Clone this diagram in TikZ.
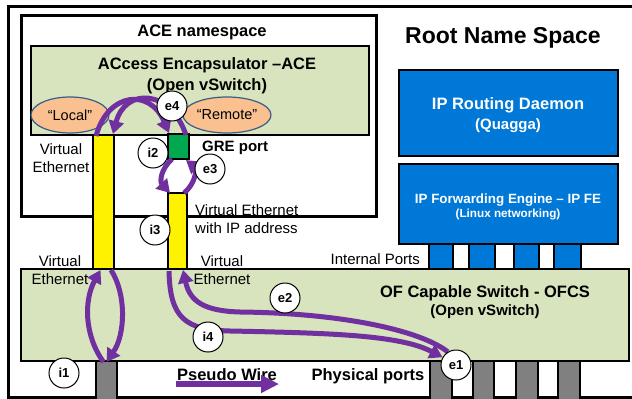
\documentclass[tikz,border=0pt]{standalone}
\usepackage{fontspec}
\setmainfont{Liberation Sans}
\usetikzlibrary{arrows.meta,calc,shapes.geometric}
\definecolor{ofgreen}{RGB}{215,228,189}
\definecolor{ipblue}{RGB}{0,120,215}
\definecolor{purp}{RGB}{112,48,160}
\definecolor{gregreen}{RGB}{0,168,80}
\definecolor{peach}{RGB}{250,192,144}
\definecolor{ellborder}{RGB}{56,93,138}
\definecolor{portgray}{RGB}{128,128,128}
\pgfdeclarelayer{front}
\pgfsetlayers{main,front}
\begin{document}
\begin{tikzpicture}[x=1pt,y=-1pt,
  box/.style={draw, line width=2.5pt, anchor=north west, inner sep=0pt, outer sep=0pt},
  bl/.style={font=\bfseries\fontsize{16.5}{18}\selectfont, anchor=base, inner sep=0pt},
  rl/.style={font=\fontsize{15}{18}\selectfont, anchor=base, inner sep=0pt},
  ell/.style={ellipse, draw=ellborder, line width=1.2pt, fill=peach, inner sep=0pt, font=\fontsize{14.5}{16}\selectfont},
  lbl/.style={circle, draw, line width=1pt, fill=white, minimum size=30pt, inner sep=0pt, font=\bfseries\fontsize{13}{14}\selectfont},
  parrow/.style={draw=purp, line width=5pt, -{Triangle[length=13pt,width=15pt]}}
]
\useasboundingbox (0,0) rectangle (632,399);
\fill[white] (0,0) rectangle (632,399);
\clip (0,0) rectangle (632,399);

% outer frame
\draw[line width=3pt] (645,6) -- (8,6) -- (8,397) -- (645,397);

% ACE namespace
\node[box, line width=3pt, minimum width=355pt, minimum height=201pt] (acens) at (21,15) {};
\node[box, fill=ofgreen, minimum width=338pt, minimum height=89pt] (ace) at (31,46) {};
\node[bl] (tacens) at (202,36) {ACE namespace};
\node[bl] (tace1) at (207,69) {ACcess Encapsulator –ACE};
\node[bl] (tace2) at (207,90) {(Open vSwitch)};
\node[ell, minimum width=78pt, minimum height=36pt] (local) at (70,115) {“Local”};
\node[ell, minimum width=88pt, minimum height=36pt] (remote) at (227,115) {“Remote”};

% internal ports and physical ports
\node[box, fill=ipblue, minimum width=24pt, minimum height=26pt] (ip1) at (429,244) {};
\node[box, fill=ipblue, minimum width=26pt, minimum height=26pt] (ip2) at (469,244) {};
\node[box, fill=ipblue, minimum width=25pt, minimum height=26pt] (ip3) at (514,244) {};
\node[box, fill=ipblue, minimum width=27pt, minimum height=26pt] (ip4) at (554,244) {};
\node[box, fill=portgray, minimum width=21pt, minimum height=44pt] (phy0) at (96,361) {};
\node[box, fill=portgray, minimum width=22pt, minimum height=44pt] (phy1) at (430,361) {};
\node[box, fill=portgray, minimum width=21pt, minimum height=44pt] (phy2) at (473,361) {};
\node[box, fill=portgray, minimum width=22pt, minimum height=44pt] (phy3) at (516,361) {};
\node[box, fill=portgray, minimum width=22pt, minimum height=44pt] (phy4) at (558,361) {};

% bars
\node[box, fill=yellow, minimum width=21pt, minimum height=134pt] (vethL) at (93,135) {};
\node[box, fill=gregreen, minimum width=21pt, minimum height=25pt] (gre) at (168,134) {};
\node[box, fill=yellow, minimum width=19pt, minimum height=76pt] (veth2) at (168,193) {};

% OFCS
\node[box, fill=ofgreen, minimum width=608pt, minimum height=92pt] (ofcs) at (21,269) {};
\node[bl] (tof1) at (485,297) {OF Capable Switch - OFCS};
\node[bl, font=\bfseries\fontsize{15}{18}\selectfont] (tof2) at (485,315) {(Open vSwitch)};

% blue boxes
\node[box, fill=ipblue, minimum width=219pt, minimum height=86pt] (quagga) at (399,70) {};
\node[box, fill=ipblue, minimum width=219pt, minimum height=80pt] (ipfe) at (399,164) {};
\node[bl, text=white] (tq1) at (508,109) {IP Routing Daemon};
\node[bl, text=white, font=\bfseries\fontsize{15}{18}\selectfont] (tq2) at (508,129) {(Quagga)};
\node[bl, text=white, font=\bfseries\fontsize{13.4}{16}\selectfont] (tf1) at (508,203) {IP Forwarding Engine – IP FE};
\node[bl, text=white, font=\bfseries\fontsize{11.7}{14}\selectfont] (tf2) at (508,217) {(Linux networking)};
\node[bl, font=\bfseries\fontsize{23}{26}\selectfont] (troot) at (503,43) {Root Name Space};

% labels
\node[rl] (tv1a) at (61,154) {Virtual};
\node[rl] (tv1b) at (61,172) {Ethernet};
\node[bl, anchor=base west, font=\bfseries\fontsize{15}{18}\selectfont] (tgre) at (202,151) {GRE port};
\node[rl, anchor=base west] (tv2a) at (195,215) {Virtual Ethernet};
\node[rl, anchor=base west] (tv2b) at (195,233) {with IP address};
\node[rl] (tv3a) at (60,266) {Virtual};
\node[rl] (tv3b) at (60,284) {Ethernet};
\node[rl] (tv4a) at (222,266) {Virtual};
\node[rl] (tv4b) at (222,284) {Ethernet};
\node[rl, anchor=base east] (tint) at (420,264) {Internal Ports};
\node[bl] (tpw) at (227,380) {Pseudo Wire};
\node[bl] (tphy) at (368,380) {Physical ports};

% circles
\begin{pgfonlayer}{front}
\node[lbl] (e4) at (172,106) {e4};
\node[lbl] (i2) at (153,153) {i2};
\node[lbl] (e3) at (210,169) {e3};
\node[lbl] (i3) at (155,230) {i3};
\node[lbl] (e2) at (285,298) {e2};
\node[lbl] (i4) at (208,337) {i4};
\node[lbl] (i1) at (64,373) {i1};
\node[lbl] (e1) at (456,365) {e1};
\end{pgfonlayer}

% arrows
\draw[parrow] ($(vethL.north west)+(3,1)$) .. controls (108,92) and (150,88) .. ($(gre.north west)+(1,-1)$);
\draw[parrow] ($(gre.north east)+(-3,1)$) .. controls (170,88) and (125,88) .. ($(vethL.north east)+(-1,-1)$);
\draw[parrow] ($(gre.south west)+(4,0)$) .. controls (160,170) and (160,182) .. ($(veth2.north west)+(2,0)$);
\draw[parrow] ($(veth2.north east)+(-3,0)$) .. controls (197,182) and (196,168) .. ($(gre.south east)+(-3,1)$);
\draw[parrow] ($(vethL.south east)+(-3,1)$) .. controls (127,295) and (125,335) .. ($(phy0.north)+(0,1)$);
\draw[parrow] ($(phy0.north)+(-3,1)$) .. controls (84,335) and (84,300) .. ($(vethL.south)+(-3,1)$);
\draw[parrow] ($(veth2.south west)+(1,2)$) .. controls (170,318) and (185,330) .. (230,331) .. controls (330,333) and (400,335) .. (e1.150);
\draw[parrow] (e1.122) .. controls (420,330) and (340,313) .. (240,312) .. controls (205,311) and (190,302) .. ($(veth2.south east)+(-4,1)$);

% legend
\coordinate (pwA) at (176,384);
\coordinate (pwB) at (279,384);
\draw[draw=purp, line width=6pt, -{Triangle[length=18pt,width=17pt]}] (pwA) -- (pwB);
\end{tikzpicture}
\end{document}
